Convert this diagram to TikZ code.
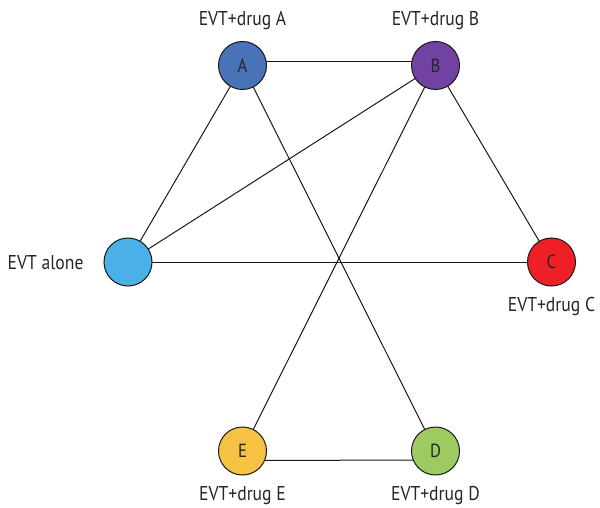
\documentclass[tikz,border=0pt]{standalone}
\usepackage{fontspec}
\setmainfont{PT Sans}[FakeStretch=0.88]
\begin{document}
\begin{tikzpicture}[x=1pt,y=-1pt,
  arm/.style={circle,draw=black!90,line width=1pt,minimum size=48pt,inner sep=0pt,font=\fontsize{19}{19}\selectfont,text=black!85},
  lbl/.style={font=\fontsize{20}{20}\selectfont,text=black!85},
  link/.style={line width=1pt,black!90}]
\definecolor{cA}{HTML}{4A72B9}
\definecolor{cB}{HTML}{7142A1}
\definecolor{cEVT}{HTML}{4BAFE8}
\definecolor{cC}{HTML}{EE2026}
\definecolor{cD}{HTML}{9DCB62}
\definecolor{cE}{HTML}{F5C243}
\useasboundingbox (0,0) rectangle (600,508);
% connectors first, so the circles sit on top
\coordinate (pA) at (242.5,65.5);
\coordinate (pB) at (435.5,65.5);
\coordinate (pV) at (128,262);
\coordinate (pC) at (551.5,262);
\coordinate (pE) at (242.5,451);
\coordinate (pD) at (435.5,451);
\draw[link] (242.5,62) coordinate (abL) -- (435.5,62) coordinate (abR);
\draw[link] (pA) -- (pV);
\draw[link] (pA) -- (pD);
\draw[link] (pB) -- (pV);
\draw[link] (pB) -- (pE);
\draw[link] (pB) -- (pC);
\draw[link] (pV) -- (pC);
\draw[link] (242.5,460.5) coordinate (edL) -- (435.5,460) coordinate (edR);
% treatment arms
\node[arm,fill=cA] (A) at (pA) {A};
\node[arm,fill=cB] (B) at (pB) {B};
\node[arm,fill=cEVT] (V) at (pV) {};
\node[arm,fill=cC] (C) at (pC) {C};
\node[arm,fill=cE] (E) at (pE) {E};
\node[arm,fill=cD] (D) at (pD) {D};
% labels
\node[lbl] (lA) at (242.5,21) {EVT+drug A};
\node[lbl] (lB) at (435.5,21) {EVT+drug B};
\node[lbl,anchor=east] (lV) at (87,263) {EVT alone};
\node[lbl] (lC) at (551.5,306) {EVT+drug C};
\node[lbl] (lE) at (242.5,496) {EVT+drug E};
\node[lbl] (lD) at (435.5,496) {EVT+drug D};
\end{tikzpicture}
\end{document}
